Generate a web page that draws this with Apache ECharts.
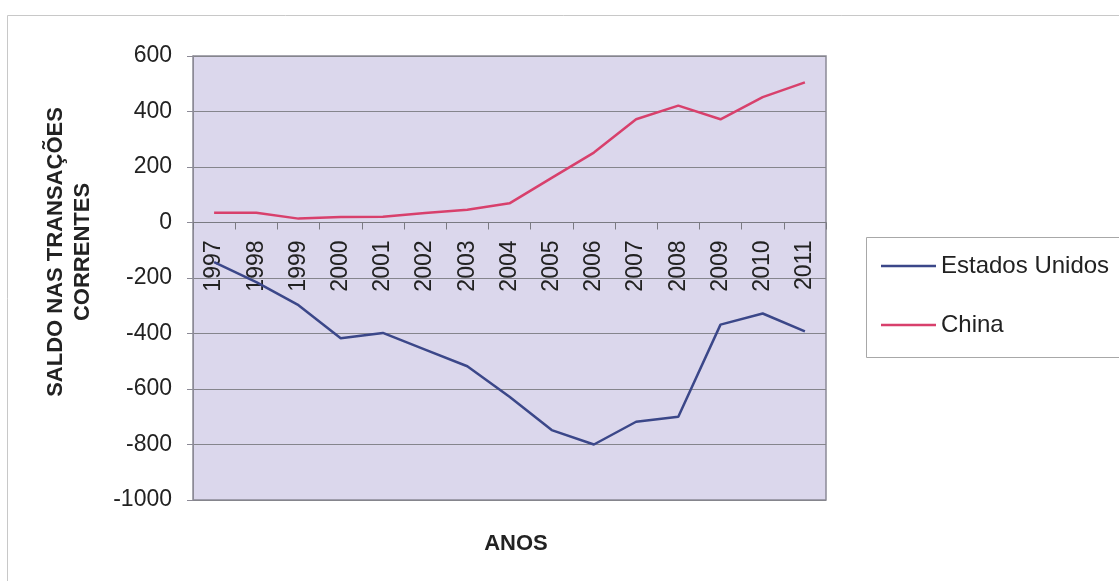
<!DOCTYPE html>
<html>
<head>
<meta charset="utf-8">
<script src="https://cdn.jsdelivr.net/npm/echarts@6/dist/echarts.min.js"></script>
<style>
  html, body { margin: 0; padding: 0; background: #fff; }
  #chart { width: 1119px; height: 581px; }
</style>
</head>
<body>
<div id="chart"></div>
<script>
// Anos (eixo das categorias)
const anos = ['1997','1998','1999','2000','2001','2002','2003','2004','2005','2006','2007','2008','2009','2010','2011'];
// Saldo em transações correntes (US$ bilhões)
const estadosUnidos = [-143, -215, -298, -417, -398, -458, -518, -628, -748, -800, -718, -700, -368, -328, -392];
const china = [35, 35, 14, 20, 21, 34, 46, 69, 161, 252, 372, 421, 372, 452, 505];
// Escala do eixo vertical
const yMin = -1000, yMax = 600, yStep = 200;

const FONT = '"Liberation Sans", Arial, sans-serif';
const W = 1119, H = 581;
const grid = { left: 193, top: 56, right: 293, bottom: 81 };
// The category axis crosses the value axis at zero: shift it up from the grid bottom
const plotH = H - grid.top - grid.bottom;
const zeroShift = (0 - yMin) / (yMax - yMin) * plotH;

const chart = echarts.init(document.getElementById('chart'));

chart.setOption({
  backgroundColor: '#ffffff',
  animation: false,
  textStyle: { fontFamily: FONT },
  grid: Object.assign({}, grid, {
    show: true,
    backgroundColor: '#dbd7ec',
    borderColor: '#8c8a96',
    borderWidth: 1.5
  }),
  legend: {
    orient: 'vertical',
    left: 881, top: 254,
    padding: 0,
    icon: 'rect',
    itemWidth: 55, itemHeight: 2.5, itemGap: 35,
    textStyle: { fontFamily: FONT, fontSize: 24, color: '#222', lineHeight: 24 },
    data: ['Estados Unidos', 'China']
  },
  xAxis: {
    type: 'category',
    data: anos,
    boundaryGap: true,
    position: 'bottom',
    offset: -zeroShift,
    axisLine: { onZero: false, lineStyle: { color: '#7a7a82', width: 1.2 } },
    axisTick: { show: true, inside: false, length: 7, lineStyle: { color: '#7a7a82' } },
    axisLabel: {
      rotate: 90, margin: 18, interval: 0,
      fontFamily: FONT, fontSize: 23, color: '#222'
    },
    splitLine: { show: false }
  },
  yAxis: {
    type: 'value',
    min: yMin, max: yMax, interval: yStep,
    axisLine: { show: true, lineStyle: { color: '#8c8a96' } },
    axisTick: { show: true, length: 6, lineStyle: { color: '#8c8a96' } },
    axisLabel: {
      margin: 21, fontFamily: FONT, fontSize: 23, color: '#222',
      formatter: (v) => String(v)
    },
    splitLine: { show: true, lineStyle: { color: '#85858c', width: 1.2 } }
  },
  series: [
    {
      name: 'Estados Unidos', type: 'line', data: estadosUnidos,
      symbol: 'none',
      lineStyle: { color: '#3b4789', width: 2.5 },
      itemStyle: { color: '#3b4789' }
    },
    {
      name: 'China', type: 'line', data: china,
      symbol: 'none',
      lineStyle: { color: '#d8406c', width: 2.5 },
      itemStyle: { color: '#d8406c' }
    }
  ],
  graphic: [
    {
      type: 'rect', silent: true, z: -10,
      shape: { x: 7.5, y: 15.5, width: 1200, height: 700 },
      style: { fill: 'none', stroke: '#c8c8c8', lineWidth: 1 }
    },
    {
      type: 'rect', silent: true,
      shape: { x: 866.5, y: 237.5, width: 300, height: 120 },
      style: { fill: 'none', stroke: '#a8a8a8', lineWidth: 1 }
    },
    {
      type: 'text', silent: true,
      x: 69, y: 252, rotation: Math.PI / 2,
      style: {
        text: 'SALDO NAS TRANSAÇÕES\nCORRENTES',
        fontFamily: FONT, fontSize: 22, fontWeight: 'bold',
        lineHeight: 27, fill: '#222',
        align: 'center', verticalAlign: 'middle'
      }
    },
    {
      type: 'text', silent: true,
      x: 516, y: 544,
      style: {
        text: 'ANOS',
        fontFamily: FONT, fontSize: 22, fontWeight: 'bold', fill: '#222',
        align: 'center', verticalAlign: 'middle'
      }
    }
  ]
});
</script>
</body>
</html>
